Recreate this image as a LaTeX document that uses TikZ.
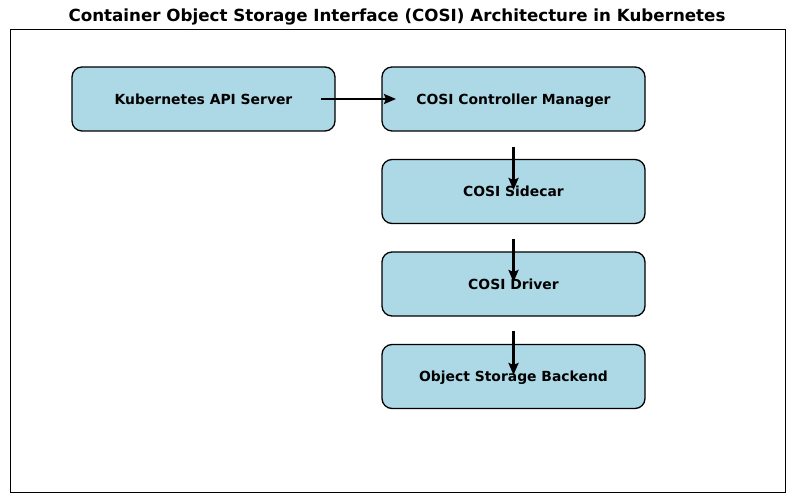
\documentclass[tikz,border=0pt]{standalone}
\usepackage{fontspec}
\setmainfont{DejaVu Sans}
\usetikzlibrary{arrows.meta}
\definecolor{boxblue}{HTML}{ADD8E6}
\begin{document}
\begin{tikzpicture}[x=1pt,y=-1pt,
  boxnode/.style={draw=black,fill=boxblue,line width=1.3pt,rounded corners=10pt,
    minimum width=263pt,minimum height=64pt,inner sep=0pt,text height=10.1pt,text depth=0pt,
    font=\fontsize{13.9}{16}\selectfont\bfseries},
  flow/.style={line width=2.4pt,-{Stealth[length=12pt,width=10pt,inset=2pt]}}]
\useasboundingbox (0,0) rectangle (794,502);
\node[font=\fontsize{16.7}{19}\selectfont\bfseries] (title) at (397,17) {Container Object Storage Interface (COSI) Architecture in Kubernetes};
\draw[line width=1pt] (10,30) rectangle (785,492);
\node[boxnode] (api) at (203.5,99) {Kubernetes API Server};
\node[boxnode] (ctrl) at (513.5,99) {COSI Controller Manager};
\node[boxnode] (side) at (513.5,191.5) {COSI Sidecar};
\node[boxnode] (drv) at (513.5,284) {COSI Driver};
\node[boxnode] (obj) at (513.5,376.5) {Object Storage Backend};
\coordinate (a1) at (321,99);
\coordinate (a2) at (396,99);
\coordinate (b1) at (513.5,147);
\coordinate (b2) at (513.5,190);
\coordinate (c1) at (513.5,239);
\coordinate (c2) at (513.5,282);
\coordinate (d1) at (513.5,331);
\coordinate (d2) at (513.5,375);
\draw[flow] (a1) -- (a2);
\draw[flow] (b1) -- (b2);
\draw[flow] (c1) -- (c2);
\draw[flow] (d1) -- (d2);
\end{tikzpicture}
\end{document}
